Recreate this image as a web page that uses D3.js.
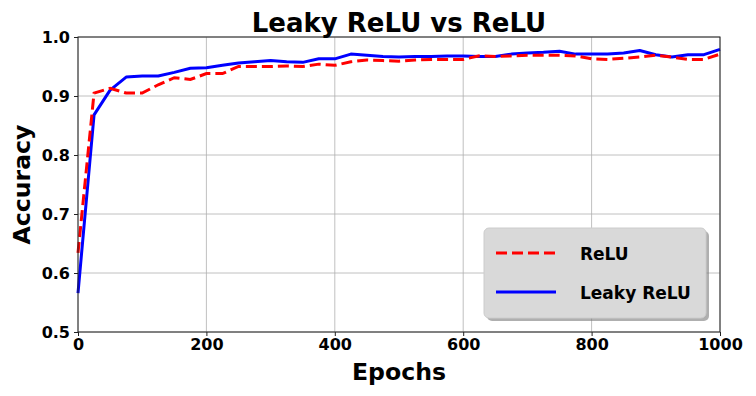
<!DOCTYPE html>
<html lang="en">
<head>
    <meta charset="UTF-8">
    <title>Leaky ReLU vs ReLU</title>
    <script src="https://d3js.org/d3.v7.min.js"></script>
    <style>
        body { margin: 0; background: white; }
        text { font-family: "DejaVu Sans", sans-serif; font-weight: bold; }
        .tick text { font-size: 16px; fill: black; }
        .grid line { stroke: #b0b0b0; stroke-width: 0.8; }
    </style>
</head>
<body>
    <div id="chart"></div>
    <script>
        var w = 756;
        var h = 396;
        var margin = {top: 37, right: 36, bottom: 64, left: 78};

        var epochs = [0, 25, 50, 75, 100, 125, 150, 175, 200, 225, 250, 275, 300, 325, 350, 375, 400,
                      425, 450, 475, 500, 525, 550, 575, 600, 625, 650, 675, 700, 725, 750, 775, 800,
                      825, 850, 875, 900, 925, 950, 975, 1000];
        var relu = [0.634, 0.905, 0.913, 0.905, 0.905, 0.919, 0.931, 0.928, 0.938, 0.938, 0.950, 0.950,
                    0.950, 0.951, 0.950, 0.954, 0.952, 0.958, 0.961, 0.960, 0.959, 0.961, 0.962, 0.962,
                    0.962, 0.968, 0.967, 0.968, 0.969, 0.969, 0.969, 0.968, 0.963, 0.962, 0.964, 0.966,
                    0.969, 0.966, 0.962, 0.962, 0.971];
        var leaky = [0.566, 0.868, 0.910, 0.932, 0.934, 0.934, 0.940, 0.947, 0.948, 0.952, 0.956, 0.958,
                     0.960, 0.958, 0.957, 0.963, 0.963, 0.971, 0.969, 0.967, 0.966, 0.967, 0.967, 0.968,
                     0.968, 0.967, 0.967, 0.971, 0.973, 0.974, 0.976, 0.971, 0.971, 0.971, 0.973, 0.977,
                     0.970, 0.966, 0.970, 0.970, 0.979];
        var xTicks = [0, 200, 400, 600, 800, 1000];
        var yTicks = [0.5, 0.6, 0.7, 0.8, 0.9, 1.0];
        var seriesNames = ["ReLU", "Leaky ReLU"];
        var seriesColors = ["red", "blue"];

        var svg = d3.select("#chart")
                    .append("svg")
                    .attr("width", w)
                    .attr("height", h);

        var xScale = d3.scaleLinear()
                       .domain([0, 1000])
                       .range([margin.left, w - margin.right]);

        var yScale = d3.scaleLinear()
                       .domain([0.5, 1.0])
                       .range([h - margin.bottom, margin.top]);

        // grid
        svg.append("g")
           .attr("class", "grid")
           .selectAll("line.v")
           .data(xTicks)
           .enter()
           .append("line")
           .attr("x1", function(d) { return xScale(d); })
           .attr("x2", function(d) { return xScale(d); })
           .attr("y1", yScale(0.5))
           .attr("y2", yScale(1.0));

        svg.append("g")
           .attr("class", "grid")
           .selectAll("line.h")
           .data(yTicks)
           .enter()
           .append("line")
           .attr("x1", xScale(0))
           .attr("x2", xScale(1000))
           .attr("y1", function(d) { return yScale(d); })
           .attr("y2", function(d) { return yScale(d); });

        var line = d3.line()
                     .x(function(d, i) { return xScale(epochs[i]); })
                     .y(function(d) { return yScale(d); });

        var plot = svg.append("g");

        plot.append("path")
            .datum(leaky)
            .attr("d", line)
            .attr("fill", "none")
            .attr("stroke", "blue")
            .attr("stroke-width", 3)
            .attr("stroke-linejoin", "round");

        plot.append("path")
            .datum(relu)
            .attr("d", line)
            .attr("fill", "none")
            .attr("stroke", "red")
            .attr("stroke-width", 3)
            .attr("stroke-dasharray", "11,5");

        // axes
        var xAxis = d3.axisBottom(xScale).tickValues(xTicks).tickSize(4).tickPadding(3).tickFormat(d3.format("d"));
        var yAxis = d3.axisLeft(yScale).tickValues(yTicks).tickSize(4).tickPadding(4).tickFormat(d3.format(".1f"));

        svg.append("g")
           .attr("transform", "translate(0," + yScale(0.5) + ")")
           .call(xAxis)
           .call(function(g) { g.select(".domain").remove(); });

        svg.append("g")
           .attr("transform", "translate(" + xScale(0) + ",0)")
           .call(yAxis)
           .call(function(g) { g.select(".domain").remove(); });

        svg.selectAll(".tick line").attr("stroke", "#222").attr("stroke-width", 1);

        // frame
        svg.append("rect")
           .attr("x", xScale(0))
           .attr("y", yScale(1.0))
           .attr("width", xScale(1000) - xScale(0))
           .attr("height", yScale(0.5) - yScale(1.0))
           .attr("fill", "none")
           .attr("stroke", "#222")
           .attr("stroke-width", 1);

        // titles
        svg.append("text")
           .attr("x", (xScale(0) + xScale(1000)) / 2)
           .attr("y", 32)
           .attr("text-anchor", "middle")
           .attr("font-size", 26)
           .text("Leaky ReLU vs ReLU");

        svg.append("text")
           .attr("x", (xScale(0) + xScale(1000)) / 2)
           .attr("y", 380)
           .attr("text-anchor", "middle")
           .attr("font-size", 23.6)
           .text("Epochs");

        svg.append("text")
           .attr("transform", "translate(30," + (yScale(0.75)) + ") rotate(-90)")
           .attr("text-anchor", "middle")
           .attr("font-size", 23.6)
           .text("Accuracy");

        // legend
        var legend = svg.append("g").attr("transform", "translate(484,228)");
        legend.append("rect")
              .attr("x", 3).attr("y", 3)
              .attr("width", 222).attr("height", 90)
              .attr("rx", 5)
              .attr("fill", "#7a7a7a")
              .attr("opacity", 0.6);
        legend.append("rect")
              .attr("width", 222).attr("height", 90)
              .attr("rx", 5)
              .attr("fill", "#d9d9d9")
              .attr("stroke", "#cccccc");

        var items = legend.selectAll("g.item")
                          .data(seriesNames)
                          .enter()
                          .append("g")
                          .attr("transform", function(d, i) { return "translate(0," + (25 + i * 39) + ")"; });

        items.append("line")
             .attr("x1", 12).attr("x2", 72)
             .attr("stroke", function(d, i) { return seriesColors[i]; })
             .attr("stroke-width", 3)
             .attr("stroke-dasharray", function(d, i) { return i == 0 ? "11,5" : null; });

        items.append("text")
             .attr("x", 96)
             .attr("y", 7)
             .attr("font-size", 17)
             .text(function(d) { return d; });
    </script>
</body>
</html>
